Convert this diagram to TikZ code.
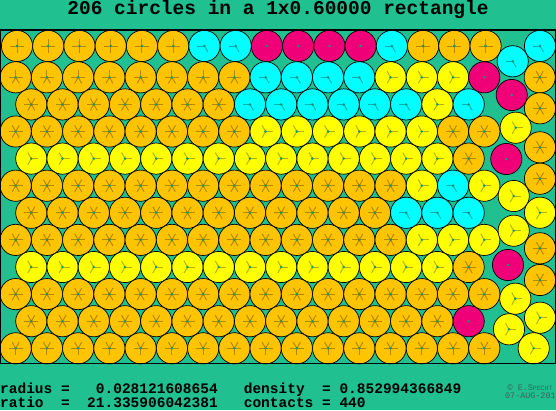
\documentclass[tikz,border=0pt]{standalone}
\usepackage{fontspec}
\setmonofont{Liberation Mono}
\usepackage{tikz}

\definecolor{pkbg}{RGB}{32,192,144}
\definecolor{pkorange}{RGB}{255,196,0}
\definecolor{pkyellow}{RGB}{255,255,0}
\definecolor{pkcyan}{RGB}{0,255,255}
\definecolor{pkmagenta}{RGB}{240,0,120}
\definecolor{pkdot}{RGB}{20,150,120}
\definecolor{pksign}{RGB}{60,100,90}

\tikzset{
    disk/.style={circle,draw=black,line width=.7pt,minimum size=31.2pt,inner sep=0pt},
    centerdot/.style={path picture={
        \fill[pkdot] (path picture bounding box.center) circle (1.4pt);}},
    spokes/.style={path picture={
        \foreach \a in {#1}
            \draw[black,opacity=.3,line width=1pt] (path picture bounding box.center) -- ++(\a:7pt);
        \fill[pkdot] (path picture bounding box.center) circle (1.4pt);}},
    disk-o/.style={disk,fill=pkorange,spokes={0,60,120,180,240,300}},
    disk-t/.style={disk,fill=pkorange,spokes={0,90,180,270}},
    disk-s/.style={disk,fill=pkorange,spokes={0,90,180,240,300}},
    disk-b/.style={disk,fill=pkorange,spokes={0,60,120,180,270}},
    disk-y/.style={disk,fill=pkyellow,spokes={0,120,240}},
    disk-c/.style={disk,fill=pkcyan,spokes={180,300}},
    disk-m/.style={disk,fill=pkmagenta,centerdot},
    infotext/.style={anchor=base west,inner sep=0pt,font=\ttfamily\bfseries\fontsize{14.5}{14.5}\selectfont},
    signtext/.style={anchor=base west,inner sep=0pt,text=pksign,font=\ttfamily\fontsize{8.4}{8.4}\selectfont},
}

\begin{document}
\begin{tikzpicture}[x=1pt,y=-1pt]
\useasboundingbox (0,0) rectangle (556,410);
\fill[pkbg] (0,0) rectangle (556,410);

% rows of the hexagonal part, left to right
\foreach \c [count=\k from 0] in {t,t,t,t,t,t,c,c,m,m,m,m,c,t,t,t}
    \node[disk-\c] (a\k) at (17+31.24*\k,46) {};
\foreach \c [count=\k from 0] in {s,s,s,s,s,s,s,s,c,c,c,c,y,y,y,m}
    \node[disk-\c] (b\k) at (15.7+31.24*\k,77.3) {};
\foreach \c [count=\k from 0] in {o,o,o,o,o,o,o,c,c,c,c,c,c,y,c}
    \node[disk-\c] (c\k) at (31.3+31.24*\k,104.4) {};
\foreach \c [count=\k from 0] in {o,o,o,o,o,o,o,o,y,y,y,y,y,y,o,o}
    \node[disk-\c] (d\k) at (15.7+31.24*\k,131.5) {};
\foreach \c [count=\k from 0] in {y,y,y,y,y,y,y,y,y,y,y,y,y,y,o}
    \node[disk-\c] (e\k) at (31.3+31.24*\k,158.6) {};
\foreach \c [count=\k from 0] in {o,o,o,o,o,o,o,o,o,o,o,o,o,y,c,y}
    \node[disk-\c] (f\k) at (15.7+31.24*\k,185.7) {};
\foreach \c [count=\k from 0] in {o,o,o,o,o,o,o,o,o,o,o,o,c,c,c}
    \node[disk-\c] (g\k) at (31.3+31.24*\k,212.8) {};
\foreach \c [count=\k from 0] in {o,o,o,o,o,o,o,o,o,o,o,o,o,y,y,y}
    \node[disk-\c] (h\k) at (15.7+31.24*\k,239.9) {};
\foreach \c [count=\k from 0] in {y,y,y,y,y,y,y,y,y,y,y,y,y,y,o}
    \node[disk-\c] (i\k) at (31.3+31.24*\k,267) {};
\foreach \c [count=\k from 0] in {o,o,o,o,o,o,o,o,o,o,o,o,o,o,o,o}
    \node[disk-\c] (j\k) at (15.7+31.24*\k,294.1) {};
\foreach \c [count=\k from 0] in {o,o,o,o,o,o,o,o,o,o,o,o,o,o,m}
    \node[disk-\c] (k\k) at (31.3+31.24*\k,321.2) {};
\foreach \c [count=\k from 0] in {b,b,b,b,b,b,b,b,b,b,b,b,b,b,b,b}
    \node[disk-\c] (l\k) at (15.7+31.24*\k,348.3) {};

% the loose column at the right wall
\foreach \x/\y/\c [count=\n] in {512.7/61.3/c, 540/46/c, 539.7/77.3/o, 511.7/95/m,
        540/108.3/o, 515.7/127.7/y, 540/147.3/o, 506.3/159/m, 540/178.7/o,
        513.7/196/y, 540/212.7/y, 513.7/230.7/y, 540/248.3/o, 508/265/m,
        540/280/o, 515.3/298.7/y, 540/317.7/y, 509/329.3/y, 533.7/348.3/y}
    \node[disk-\c] (r\n) at (\x,\y) {};

\draw[black,line width=1.2pt] (0.6,30) rectangle (555.4,363.8);

\node[anchor=base,inner sep=0pt,font=\ttfamily\bfseries\fontsize{19.5}{19.5}\selectfont]
    (title) at (278,14.2) {206 circles in a 1x0.60000 rectangle};
\node[infotext] (line1) at (0,393) {radius~=~~~0.028121608654~~~density~~=~0.852994366849};
\node[infotext] (line2) at (0,407.5) {ratio~~=~~21.335906042381~~~contacts~=~440};
\node[signtext] (sign) at (507.5,390) {\textcopyright~E.S{\fontsize{6.5}{6.5}\selectfont PECHT}};
\node[signtext] (date) at (505,398.5) {07-AUG-2018};
\end{tikzpicture}
\end{document}
